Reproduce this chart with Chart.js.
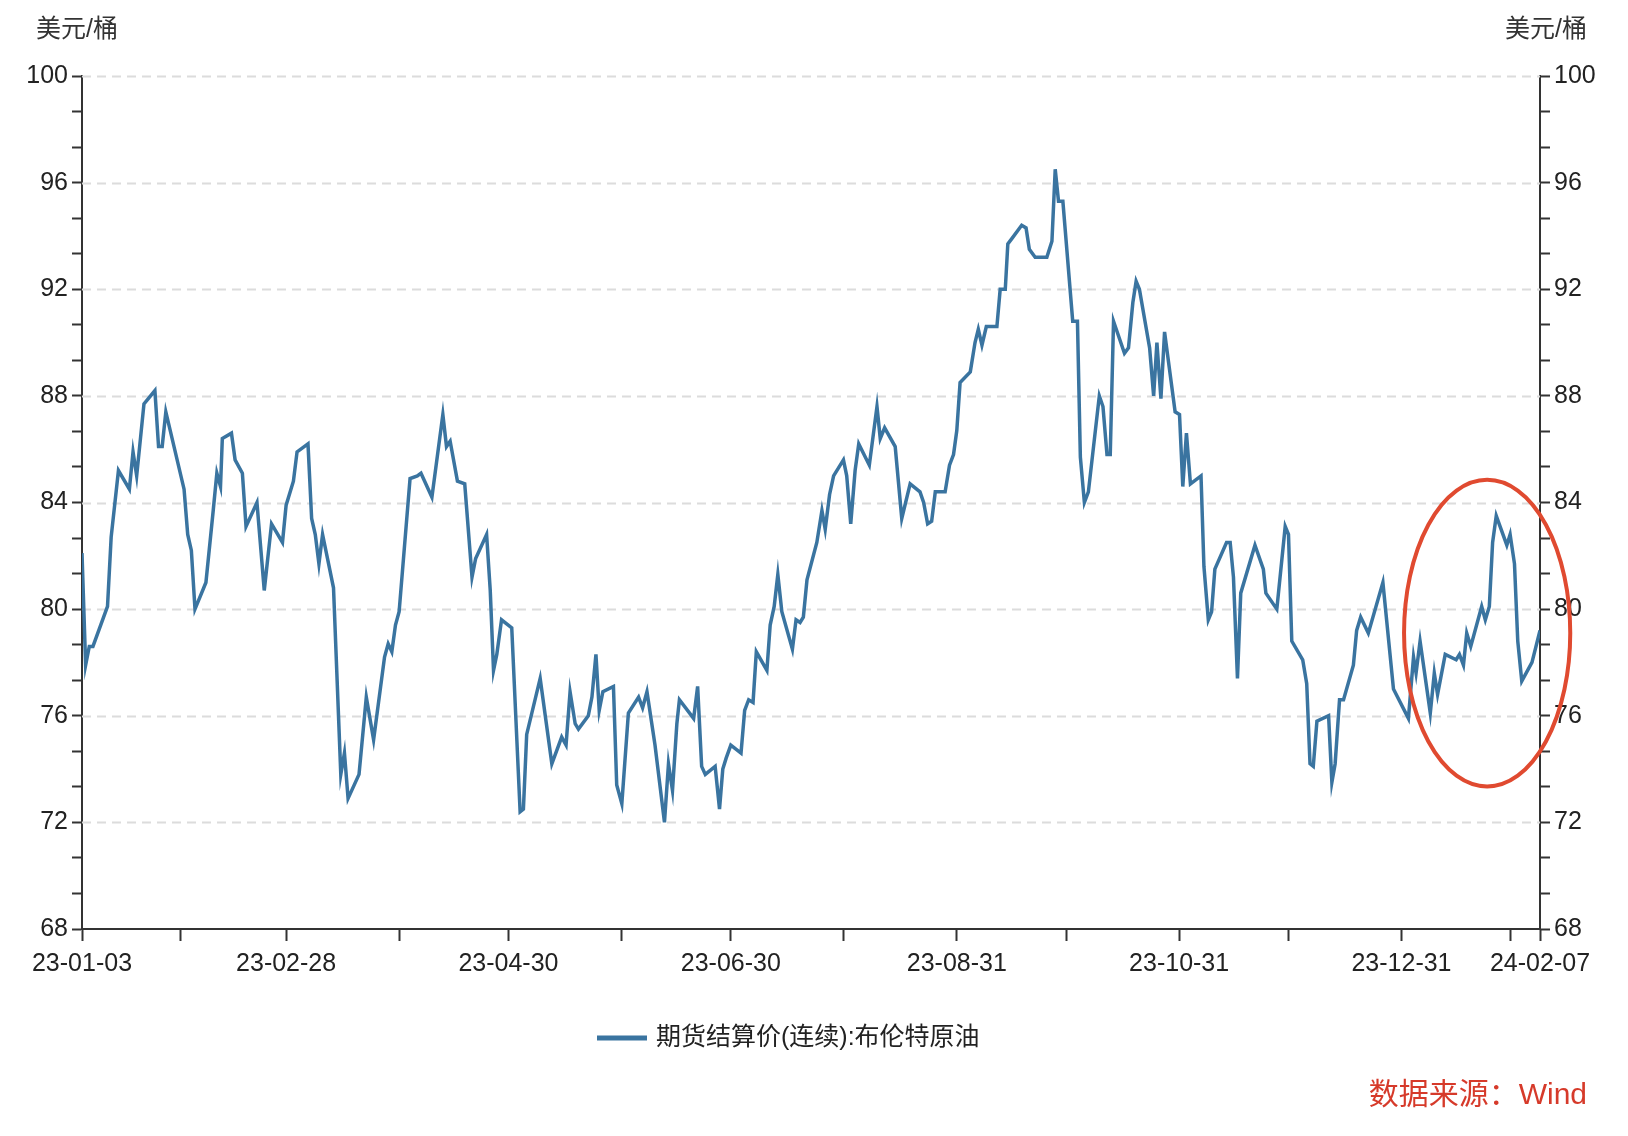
<!DOCTYPE html>
<html>
<head>
<meta charset="utf-8">
<script src="https://cdn.jsdelivr.net/npm/chart.js@4"></script>
<style>
  html, body { margin: 0; padding: 0; background: #fff; }
  #wrap { width: 1628px; height: 1136px; }
</style>
</head>
<body>
<div id="wrap"><canvas id="brentChart" width="1628" height="1136"></canvas></div>
<script>
// 日期（距 2023-01-03 的天数）与价格，读自原图
const days = [
  0, 1, 2, 3, 7, 8, 10, 13, 14, 15, 17, 20, 21, 22, 23, 28, 29, 30, 31, 34,
  36, 37, 38, 38.5, 41, 42, 44, 45, 48, 50, 52, 55, 56, 58, 59, 62, 63, 64, 65, 66,
  69, 71, 72, 73, 76, 78, 80, 83, 84, 85, 86, 87, 90, 92, 93, 96, 99, 100, 101, 103,
  105, 107, 108, 111,
  112, 112.9, 113.8, 115.1, 117.9, 120.2, 121.1, 122, 125.7, 128.9, 131.6, 132.8, 133.9, 135.3, 136.2, 138.9,
  139.9, 141, 141.9, 142.9, 145.8, 146.7, 148.1, 149.9, 152.7, 153.8, 155, 157.2, 159.8, 160.9, 162, 163.2,
  163.9, 167.8, 168.9, 170, 171, 173.7, 174.9, 175.8, 176.7, 178, 180.8, 181.8, 182.9, 184.1, 185, 187.9,
  188.8, 189.9, 190.9, 192, 194.9, 195.9, 197, 197.9, 198.9, 201.6, 203, 203.9, 205.1, 206.2, 208.9, 209.8,
  210.9, 212.1, 213.1, 216, 218.1, 219, 220.2,
  223.1, 224.9, 227.2, 229.9, 230.9, 232, 233.1, 234.1, 236.8, 238, 239.1, 240, 240.9, 243.7, 245, 245.9,
  246.9, 248.1, 251, 251.9, 253.3, 254, 255.1, 257.8, 259, 259.9, 261.5, 264.7, 266.1, 267, 267.9, 269.1,
  271.8, 273.1, 273.9, 275, 276.1, 279.1, 280.1, 281.2, 282.1, 283, 286, 287.1, 288.3, 289.2, 290.1, 292.9,
  294, 294.9, 296, 297, 299.9, 301.1, 302, 303, 304.1, 307,
  307.8, 309, 309.9, 310.8, 314, 315, 315.9, 317, 317.9, 321.8, 324.1, 324.8, 327.8, 330.1, 331, 331.9,
  334.9, 336, 336.9, 337.8, 338.8, 342, 342.9, 343.8, 345, 346.1, 348.8, 349.7, 350.8, 352.9, 356.9, 359.8,
  363.9, 365.3, 366, 367.1, 369.9, 371, 371.9, 374, 377, 377.9, 379, 379.9, 381, 384, 385, 386.1,
  387, 388, 390.9, 391.8, 393, 393.9, 395, 397.8, 400
];
const prices = [
  82.1, 77.9, 78.6, 78.6, 80.1, 82.7, 85.2, 84.5, 85.9, 85.0, 87.7, 88.2, 86.1, 86.1, 87.4, 84.5, 82.8, 82.2, 80.0, 81.0,
  83.7, 85.1, 84.6, 86.4, 86.6, 85.6, 85.1, 83.1, 84.0, 80.7, 83.2, 82.5, 83.9, 84.8, 85.9, 86.2, 83.4, 82.8, 81.7, 82.8,
  80.8, 73.8, 74.6, 72.9, 73.8, 76.7, 75.1, 78.2, 78.7, 78.4, 79.4, 79.9, 84.9, 85.0, 85.1, 84.2, 87.3, 86.1, 86.3, 84.8,
  84.7, 81.2, 81.9, 82.8,
  80.7, 77.7, 78.3, 79.6, 79.3, 72.4, 72.5, 75.3, 77.4, 74.2, 75.2, 74.9, 76.9, 75.7, 75.5, 76.0,
  76.7, 78.3, 76.2, 76.9, 77.1, 73.4, 72.7, 76.1, 76.7, 76.3, 76.9, 74.9, 72.0, 74.2, 73.2, 75.7,
  76.6, 75.9, 77.1, 74.1, 73.8, 74.1, 72.5, 74.0, 74.4, 74.9, 74.6, 76.2, 76.6, 76.5, 78.4, 77.7,
  79.4, 80.1, 81.3, 79.9, 78.5, 79.6, 79.5, 79.7, 81.1, 82.5, 83.7, 83.0, 84.3, 85.0, 85.6, 85.0,
  83.2, 85.2, 86.2, 85.4, 87.6, 86.4, 86.8,
  86.1, 83.4, 84.7, 84.4, 84.0, 83.2, 83.3, 84.4, 84.4, 85.4, 85.8, 86.7, 88.5, 88.9, 90.0, 90.5,
  89.9, 90.6, 90.6, 92.0, 92.0, 93.7, 93.9, 94.4, 94.3, 93.5, 93.2, 93.2, 93.8, 96.5, 95.3, 95.3,
  90.8, 90.8, 85.7, 84.0, 84.4, 88.0, 87.6, 85.8, 85.8, 90.8, 89.6, 89.8, 91.5, 92.3, 92.0, 89.8,
  88.0, 90.0, 87.9, 90.4, 87.4, 87.3, 84.6, 86.6, 84.7, 85.0,
  81.6, 79.6, 79.9, 81.5, 82.5, 82.5, 81.2, 77.4, 80.6, 82.4, 81.5, 80.6, 80.0, 83.1, 82.8, 78.8,
  78.1, 77.2, 74.2, 74.1, 75.8, 76.0, 73.5, 74.2, 76.6, 76.6, 77.9, 79.2, 79.7, 79.1, 81.0, 77.0,
  75.9, 78.2, 77.6, 78.8, 76.1, 77.6, 76.8, 78.3, 78.1, 78.3, 77.9, 79.1, 78.6, 80.1, 79.6, 80.1,
  82.5, 83.5, 82.4, 82.8, 81.7, 78.8, 77.3, 78.0, 79.2
];

// 横轴刻度（天数）与标签
const xTickDays = [0, 27, 56, 87, 117, 148, 178, 209, 240, 270, 301, 331, 362, 392, 400];
const xTickLabels = {0: '23-01-03', 56: '23-02-28', 117: '23-04-30', 178: '23-06-30',
  240: '23-08-31', 301: '23-10-31', 362: '23-12-31', 400: '24-02-07'};

// 纵轴
const yMin = 68, yMax = 100, yMajorStep = 4;
const seriesName = '期货结算价(连续):布伦特原油';
const unitLabel = '美元/桶';
const sourceText = '数据来源：Wind';

const FONT = "'Liberation Sans', 'Noto Sans CJK SC', sans-serif";
const LINE_COLOR = '#3a74a0';
const points = days.map((d, i) => ({ x: d, y: prices[i] }));

const yTickValues = [];
for (let k = 0; k <= 24; k++) yTickValues.push(yMin + k * 4 / 3);
const isMajor = v => Math.abs(v / yMajorStep - Math.round(v / yMajorStep)) < 1e-6;

function yAxis(position) {
  return {
    type: 'linear', position: position, min: yMin, max: yMax,
    afterBuildTicks: axis => { axis.ticks = yTickValues.map(v => ({ value: v })); },
    afterFit: axis => { axis.width = position === 'left' ? 82 : 88; },
    ticks: {
      autoSkip: false, padding: 4, color: '#222',
      font: { family: FONT, size: 25 },
      callback: v => isMajor(v) ? String(Math.round(v)) : ''
    },
    grid: { drawOnChartArea: false, tickLength: 10, tickColor: '#333', tickWidth: 2 },
    border: { color: '#333', width: 2 }
  };
}

// 虚线网格、单位、图例、来源、红圈
const extras = {
  id: 'extras',
  beforeDatasetsDraw(chart) {
    const { ctx, chartArea: a, scales: { y } } = chart;
    ctx.save();
    ctx.strokeStyle = '#dcdcdc';
    ctx.lineWidth = 2;
    ctx.setLineDash([9, 6]);
    for (let v = yMin + yMajorStep; v <= yMax; v += yMajorStep) {
      const py = Math.round(y.getPixelForValue(v)) + 0.5;
      ctx.beginPath(); ctx.moveTo(a.left, py); ctx.lineTo(a.right, py); ctx.stroke();
    }
    ctx.restore();
  },
  afterDraw(chart) {
    const { ctx, chartArea: a, scales: { x, y } } = chart;
    ctx.save();
    ctx.fillStyle = '#333';
    ctx.font = `25px ${FONT}`;
    ctx.textBaseline = 'middle';
    ctx.textAlign = 'left';
    ctx.fillText(unitLabel, 36, 30);
    ctx.textAlign = 'right';
    ctx.fillText(unitLabel, 1587, 30);

    // 图例
    const ly = 1038;
    ctx.strokeStyle = LINE_COLOR; ctx.lineWidth = 5;
    ctx.beginPath(); ctx.moveTo(597, ly); ctx.lineTo(647, ly); ctx.stroke();
    ctx.fillStyle = '#222';
    ctx.textAlign = 'left';
    ctx.fillText(seriesName, 656, ly);

    // 来源
    ctx.fillStyle = '#d63a2a';
    ctx.font = `30px ${FONT}`;
    ctx.textAlign = 'right';
    ctx.fillText(sourceText, 1587, 1096);

    // 红圈
    const cx = x.getPixelForValue(385.5), cy = y.getPixelForValue(79.1);
    const rx = x.getPixelForValue(385.5 + 22.8) - cx;
    const ry = cy - y.getPixelForValue(79.1 + 5.75);
    ctx.strokeStyle = '#e04a30'; ctx.lineWidth = 4;
    ctx.beginPath(); ctx.ellipse(cx, cy, rx, ry, 0, 0, Math.PI * 2); ctx.stroke();
    ctx.restore();
  }
};

new Chart(document.getElementById('brentChart').getContext('2d'), {
  type: 'line',
  data: {
    datasets: [{
      label: seriesName,
      data: points,
      borderColor: LINE_COLOR,
      borderWidth: 3.5,
      pointRadius: 0,
      tension: 0,
      fill: false
    }]
  },
  options: {
    responsive: false,
    animation: false,
    layout: { padding: { top: 76, bottom: 147, left: 0, right: 0 } },
    plugins: { legend: { display: false }, tooltip: { enabled: false } },
    scales: {
      x: {
        type: 'linear', min: 0, max: 400,
        afterBuildTicks: axis => { axis.ticks = xTickDays.map(v => ({ value: v })); },
        afterFit: axis => { axis.height = 60; },
        ticks: {
          autoSkip: false, maxRotation: 0, padding: 8, color: '#222',
          font: { family: FONT, size: 25 },
          callback: v => xTickLabels[v] || ''
        },
        grid: { drawOnChartArea: false, tickLength: 12, tickColor: '#333', tickWidth: 2 },
        border: { color: '#333', width: 2 }
      },
      y: yAxis('left'),
      y2: yAxis('right')
    }
  },
  plugins: [extras]
});
</script>
</body>
</html>
